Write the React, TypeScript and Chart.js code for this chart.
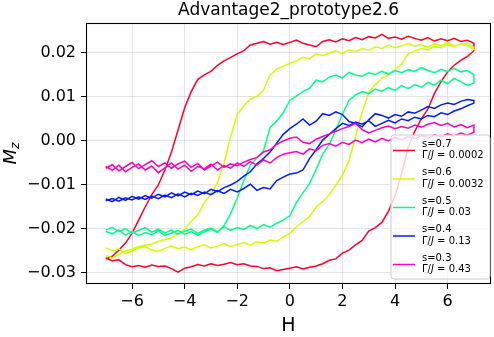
import React, { useEffect, useRef } from "react";
import { Chart, registerables } from "chart.js";

Chart.register(...registerables);

const TITLE = "Advantage2_prototype2.6";
const X_LABEL = "H";
const FONT = "'DejaVu Sans', sans-serif";

// Field values (H sweep grid, -7 .. 7)
const H = [
  -7, -6.75, -6.5, -6.25, -6, -5.75, -5.5, -5.25, -5, -4.75, -4.5, -4.25,
  -4, -3.75, -3.5, -3.25, -3, -2.75, -2.5, -2.25, -2, -1.75, -1.5, -1.25,
  -1, -0.75, -0.5, -0.25, 0, 0.25, 0.5, 0.75, 1, 1.25, 1.5, 1.75,
  2, 2.25, 2.5, 2.75, 3, 3.25, 3.5, 3.75, 4, 4.25, 4.5, 4.75,
  5, 5.25, 5.5, 5.75, 6, 6.25, 6.5, 6.75, 7,
];

// s=0.7 (forward sweep = increasing H, backward sweep listed at the same H values)
const redForward = [
  -0.0266, -0.0272, -0.027, -0.0281, -0.0286, -0.0283, -0.0287, -0.0282,
  -0.0285, -0.0284, -0.029, -0.0298, -0.0289, -0.0286, -0.0281, -0.0284,
  -0.0279, -0.0283, -0.028, -0.0276, -0.0281, -0.0279, -0.0284, -0.0285,
  -0.029, -0.0288, -0.0295, -0.0292, -0.0289, -0.0286, -0.0291, -0.0287,
  -0.0284, -0.0279, -0.0271, -0.0268, -0.0255, -0.0248, -0.0236, -0.0226,
  -0.0205, -0.0197, -0.0185, -0.016, -0.0125, -0.0075, -0.0015, 0.0022,
  0.005, 0.0072, 0.0108, 0.0135, 0.0157, 0.0172, 0.0183, 0.0192, 0.0205,
];
const redBackward = [
  -0.0268, -0.0262, -0.0248, -0.0232, -0.021, -0.018, -0.015, -0.0122,
  -0.01, -0.0066, -0.0025, 0.0025, 0.0075, 0.0112, 0.014, 0.015,
  0.0158, 0.0172, 0.0182, 0.019, 0.0198, 0.0205, 0.0218, 0.0222,
  0.0226, 0.022, 0.0224, 0.0219, 0.0224, 0.0229, 0.0222, 0.0218,
  0.0214, 0.0226, 0.023, 0.0225, 0.0232, 0.0228, 0.0235, 0.023,
  0.0237, 0.0234, 0.0242, 0.0233, 0.0236, 0.0231, 0.0238, 0.0233,
  0.0229, 0.0235, 0.0227, 0.0232, 0.0228, 0.0233, 0.0226, 0.0229, 0.0222,
];

// s=0.6
const yellowForward = [
  -0.0243, -0.025, -0.0245, -0.0256, -0.025, -0.0243, -0.024, -0.0247,
  -0.0251, -0.0244, -0.0238, -0.0245, -0.0241, -0.0247, -0.024, -0.0236,
  -0.0243, -0.0239, -0.0233, -0.024, -0.0235, -0.0231, -0.0237, -0.0229,
  -0.0232, -0.0225, -0.0228, -0.0218, -0.021, -0.0195, -0.0183, -0.0172,
  -0.015, -0.0138, -0.0122, -0.01, -0.0078, -0.0045, 0.001, 0.0065,
  0.011, 0.0128, 0.0143, 0.015, 0.0163, 0.0175, 0.0198, 0.0204,
  0.021, 0.0207, 0.0215, 0.0212, 0.0219, 0.0214, 0.0221, 0.0217, 0.0208,
];
const yellowBackward = [
  -0.026, -0.0266, -0.0258, -0.025, -0.0246, -0.024, -0.0237, -0.0234,
  -0.0228, -0.0224, -0.022, -0.0211, -0.02, -0.0183, -0.0168, -0.014,
  -0.012, -0.0095, -0.005, 0.001, 0.006, 0.008, 0.0095, 0.0102,
  0.0115, 0.015, 0.0163, 0.017, 0.0176, 0.0182, 0.019, 0.0187,
  0.0198, 0.0194, 0.02, 0.0205, 0.0199, 0.0207, 0.0203, 0.021,
  0.0206, 0.0214, 0.021, 0.0218, 0.0212, 0.0216, 0.0222, 0.0215,
  0.0219, 0.0213, 0.0221, 0.0217, 0.0223, 0.0216, 0.022, 0.0222, 0.0212,
];

// s=0.5
const greenForward = [
  -0.0202, -0.0196, -0.0206, -0.0199, -0.021, -0.0203, -0.0197, -0.0207,
  -0.02, -0.0209, -0.0202, -0.0212, -0.0205, -0.02, -0.021, -0.0203,
  -0.0198, -0.0206, -0.0195, -0.0203, -0.0197, -0.0201, -0.0192, -0.0199,
  -0.019, -0.0196, -0.0187, -0.018, -0.017, -0.014, -0.0118, -0.0097,
  -0.0065, -0.003, -0.0008, 0.0025, 0.006, 0.0092, 0.0105, 0.0112,
  0.0108, 0.0118, 0.0113, 0.0121, 0.0115, 0.0126, 0.0119, 0.0128,
  0.0122, 0.0133, 0.0127, 0.0138, 0.013, 0.0142, 0.0135, 0.0126, 0.0131,
];
const greenBackward = [
  -0.0205, -0.0211, -0.0202, -0.0214, -0.0206, -0.0215, -0.0208, -0.0213,
  -0.0204, -0.0215, -0.0209, -0.0203, -0.0212, -0.0206, -0.0214, -0.0207,
  -0.02, -0.0208, -0.0192, -0.0165, -0.013, -0.009, -0.0055, -0.0038,
  -0.0022, 0.003, 0.0045, 0.0064, 0.0092, 0.0102, 0.0112, 0.012,
  0.0138, 0.0134, 0.0145, 0.015, 0.0143, 0.0156, 0.015, 0.0147,
  0.0155, 0.0151, 0.0158, 0.0152, 0.016, 0.0155, 0.0162, 0.0158,
  0.0167, 0.016, 0.0155, 0.0163, 0.0158, 0.0165, 0.0157, 0.016, 0.0151,
];

// s=0.4
const blueForward = [
  -0.0136, -0.0131, -0.0137, -0.0129, -0.0134, -0.0127, -0.0133, -0.0125,
  -0.0131, -0.0123, -0.0129, -0.012, -0.0127, -0.0119, -0.0124, -0.0116,
  -0.0122, -0.0113, -0.0119, -0.011, -0.0116, -0.0108, -0.0098, -0.0112,
  -0.0106, -0.0109, -0.009, -0.0082, -0.0075, -0.0073, -0.0066, -0.004,
  -0.002, 0.0002, 0.0015, 0.0028, 0.004, 0.0035, 0.0043, 0.0038,
  0.0046, 0.0033, 0.004, 0.0047, 0.0041, 0.005, 0.0046, 0.0054,
  0.005, 0.0058, 0.0055, 0.0064, 0.006, 0.0068, 0.0073, 0.008, 0.0086,
];
const blueBackward = [
  -0.0132, -0.0138, -0.0128, -0.0135, -0.0126, -0.0132, -0.0124, -0.013,
  -0.0121, -0.0127, -0.0118, -0.0125, -0.0116, -0.0122, -0.0114, -0.012,
  -0.011, -0.0115, -0.0106, -0.01, -0.0092, -0.008, -0.007, -0.0052,
  -0.004, -0.0025, -0.0005, 0.0015, 0.0028, 0.0038, 0.005, 0.0036,
  0.0045, 0.0062, 0.0058, 0.0066, 0.006, 0.0044, 0.004, 0.0032,
  0.0048, 0.0062, 0.0058, 0.0052, 0.006, 0.0056, 0.0066, 0.0063,
  0.007, 0.0078, 0.0074, 0.0082, 0.0086, 0.0083, 0.009, 0.0094, 0.0092,
];

// s=0.3
const magentaForward = [
  -0.0058, -0.0067, -0.0055, -0.007, -0.006, -0.0052, -0.0066, -0.0057,
  -0.0072, -0.0061, -0.005, -0.0064, -0.0055, -0.0069, -0.0058, -0.0063,
  -0.0053, -0.0066, -0.0056, -0.0062, -0.005, -0.0058, -0.0047, -0.0055,
  -0.0043, -0.005, -0.0038, -0.003, -0.0027, -0.0024, -0.003, -0.0018,
  -0.0022, -0.001, -0.0006, -0.0012, -0.0003, -0.0008, 0.0002, -0.0004,
  0.0004, -0.0002, 0.0006, 0.0, 0.0008, 0.0003, 0.001, 0.0005,
  0.0012, 0.0007, 0.0014, 0.0009, 0.0016, 0.0011, 0.0018, 0.0013, 0.002,
];
const magentaBackward = [
  -0.0062, -0.0054, -0.0068, -0.0058, -0.0049, -0.0063, -0.0054, -0.0045,
  -0.0058, -0.005, -0.0062, -0.0052, -0.0046, -0.006, -0.0051, -0.0066,
  -0.0057, -0.0048, -0.006, -0.0052, -0.0056, -0.0048, -0.0042, -0.0038,
  -0.0025, -0.002, -0.0008, 0.0, 0.0006, 0.0009, -0.0003, -0.0006,
  0.0004, 0.001, 0.0016, 0.0022, 0.0028, 0.0033, 0.004, 0.0026,
  0.0018, 0.0024, 0.003, 0.0034, 0.0028, 0.0033, 0.0029, 0.0036,
  0.0031, 0.0038, 0.0042, 0.0035, 0.004, 0.0032, 0.0037, 0.003, 0.0036,
];

const sLabels = ["s=0.7", "s=0.6", "s=0.5", "s=0.4", "s=0.3"];
const gammaLabels = ["0.0002", "0.0032", "0.03", "0.13", "0.43"];
const colors = ["#ff0029", "#cfff00", "#00ff89", "#001cff", "#ff00bf"];
const forwardSweeps = [redForward, yellowForward, greenForward, blueForward, magentaForward];
const backwardSweeps = [redBackward, yellowBackward, greenBackward, blueBackward, magentaBackward];

const xTicks = [-6, -4, -2, 0, 2, 4, 6];
const yTicks = [-0.03, -0.02, -0.01, 0, 0.01, 0.02];

function loopPoints(fwd: number[], bwd: number[]) {
  const pts: { x: number; y: number }[] = H.map((h, i) => ({ x: h, y: fwd[i] }));
  for (let i = H.length - 1; i >= 0; i--) pts.push({ x: H[i], y: bwd[i] });
  return pts;
}

const MINUS = "\u2212";
const fmtX = (v: number) => (v < 0 ? MINUS + Math.abs(v) : String(v));
const fmtY = (v: number) => (v < -1e-9 ? MINUS + Math.abs(v).toFixed(2) : Math.abs(v).toFixed(2));

const decorPlugin = {
  id: "decor",
  afterDraw(chart: any) {
    const ctx = chart.ctx as CanvasRenderingContext2D;
    const a = chart.chartArea;
    ctx.save();
    // frame
    ctx.strokeStyle = "#000";
    ctx.lineWidth = 1.1;
    ctx.strokeRect(a.left + 0.5, a.top + 0.5, a.right - a.left - 1, a.bottom - a.top - 1);

    // legend
    const lx = 391, ly = 135, lw = 99, lh = 144, r = 3;
    ctx.beginPath();
    ctx.moveTo(lx + r, ly);
    ctx.lineTo(lx + lw - r, ly);
    ctx.quadraticCurveTo(lx + lw, ly, lx + lw, ly + r);
    ctx.lineTo(lx + lw, ly + lh - r);
    ctx.quadraticCurveTo(lx + lw, ly + lh, lx + lw - r, ly + lh);
    ctx.lineTo(lx + r, ly + lh);
    ctx.quadraticCurveTo(lx, ly + lh, lx, ly + lh - r);
    ctx.lineTo(lx, ly + r);
    ctx.quadraticCurveTo(lx, ly, lx + r, ly);
    ctx.closePath();
    ctx.fillStyle = "rgba(255,255,255,0.8)";
    ctx.fill();
    ctx.strokeStyle = "#cccccc";
    ctx.lineWidth = 1;
    ctx.stroke();

    ctx.textBaseline = "middle";
    ctx.textAlign = "left";
    for (let i = 0; i < sLabels.length; i++) {
      const yLine = 150.5 + i * 28.5;
      ctx.strokeStyle = colors[i];
      ctx.lineWidth = 1.5;
      ctx.beginPath();
      ctx.moveTo(393, yLine);
      ctx.lineTo(415, yLine);
      ctx.stroke();
      ctx.fillStyle = "#000";
      ctx.font = `10px ${FONT}`;
      ctx.fillText(sLabels[i], 422, yLine - 6.5);
      let tx = 422;
      const y2 = yLine + 5;
      ctx.fillText("\u0393/", tx, y2);
      tx += ctx.measureText("\u0393/").width;
      ctx.font = `italic 10px ${FONT}`;
      ctx.fillText("J", tx, y2);
      tx += ctx.measureText("J").width;
      ctx.font = `10px ${FONT}`;
      ctx.fillText(" = " + gammaLabels[i], tx, y2);
    }

    // title
    const cx = (a.left + a.right) / 2;
    ctx.fillStyle = "#000";
    ctx.textAlign = "center";
    ctx.textBaseline = "alphabetic";
    ctx.font = `17px ${FONT}`;
    ctx.fillText(TITLE, cx, 15);

    // x label
    ctx.font = `19px ${FONT}`;
    ctx.fillText(X_LABEL, cx, 331);

    // y label: M_z rotated
    const cy = (a.top + a.bottom) / 2;
    ctx.translate(16, cy);
    ctx.rotate(-Math.PI / 2);
    ctx.textAlign = "left";
    ctx.font = `italic 18px ${FONT}`;
    const mw = ctx.measureText("M").width;
    ctx.font = `italic 12.5px ${FONT}`;
    const zw = ctx.measureText("z").width;
    const start = -(mw + zw) / 2;
    ctx.font = `italic 18px ${FONT}`;
    ctx.fillText("M", start, 0);
    ctx.font = `italic 12.5px ${FONT}`;
    ctx.fillText("z", start + mw, 3);
    ctx.restore();
  },
};

export default function App() {
  const ref = useRef<HTMLCanvasElement | null>(null);
  useEffect(() => {
    document.body.style.margin = "0";
    const canvas = ref.current;
    if (!canvas) return;
    const datasets = colors.map((c, i) => ({
      label: sLabels[i],
      data: loopPoints(forwardSweeps[i], backwardSweeps[i]),
      borderColor: c,
      backgroundColor: c,
      borderWidth: 1.5,
      pointRadius: 0,
      tension: 0,
      fill: false,
      order: colors.length - i,
    }));
    const gridColor = "rgba(176,176,176,0.35)";
    const chart = new Chart(canvas, {
      type: "line",
      data: { datasets },
      options: {
        animation: false,
        responsive: false,
        devicePixelRatio: 1,
        parsing: false as any,
        layout: { padding: { top: 23, right: 3, left: 0, bottom: 0 } },
        plugins: { legend: { display: false }, tooltip: { enabled: false }, title: { display: false } },
        scales: {
          x: {
            type: "linear",
            min: -7.75,
            max: 7.65,
            afterBuildTicks: (s: any) => {
              s.ticks = xTicks.map((v) => ({ value: v }));
            },
            afterFit: (s: any) => {
              s.height = 53;
            },
            ticks: {
              color: "#000",
              font: { family: FONT, size: 16 },
              padding: 3,
              maxRotation: 0,
              autoSkip: false,
              callback: (v: any) => fmtX(Number(v)),
            },
            grid: { color: gridColor, lineWidth: 1, tickColor: "#000", tickLength: 5 },
            border: { display: false },
          },
          y: {
            type: "linear",
            min: -0.0325,
            max: 0.0268,
            afterBuildTicks: (s: any) => {
              s.ticks = yTicks.map((v) => ({ value: v }));
            },
            afterFit: (s: any) => {
              s.width = 86;
            },
            ticks: {
              color: "#000",
              font: { family: FONT, size: 16 },
              padding: 5,
              autoSkip: false,
              callback: (v: any) => fmtY(Number(v)),
            },
            grid: { color: gridColor, lineWidth: 1, tickColor: "#000", tickLength: 5 },
            border: { display: false },
          },
        },
      },
      plugins: [decorPlugin],
    });
    return () => chart.destroy();
  }, []);
  return (
    <div style={{ position: "fixed", left: 0, top: 0, width: 494, height: 337, background: "#fff" }}>
      <canvas ref={ref} width={494} height={337} style={{ display: "block", width: 494, height: 337 }} />
    </div>
  );
}
